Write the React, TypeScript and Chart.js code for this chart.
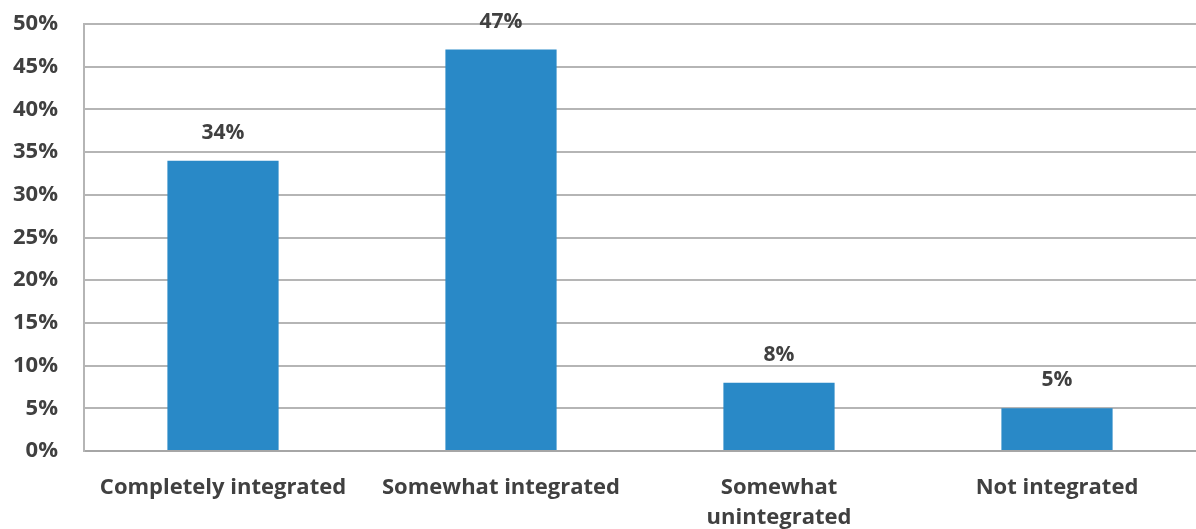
import React, { useEffect, useRef } from "react";
import { Chart, registerables } from "chart.js";

Chart.register(...registerables);

const categories: (string | string[])[] = [
  "Completely integrated",
  "Somewhat integrated",
  ["Somewhat", "unintegrated"],
  "Not integrated",
];
const values: number[] = [34, 47, 8, 5];
const yTicks: number[] = [0, 5, 10, 15, 20, 25, 30, 35, 40, 45, 50];

const TEXT = "#404040";
const FONT = "'Open Sans', Lato, sans-serif";

const valueLabels = {
  id: "valueLabels",
  afterDatasetsDraw(chart: any) {
    const ctx = chart.ctx;
    const meta = chart.getDatasetMeta(0);
    ctx.save();
    ctx.fillStyle = TEXT;
    ctx.font = `bold 21px ${FONT}`;
    ctx.textAlign = "center";
    ctx.textBaseline = "middle";
    meta.data.forEach((bar: any, i: number) => {
      ctx.fillText(values[i] + "%", bar.x, bar.y - 28);
    });
    ctx.restore();
  },
};

export default function App() {
  const ref = useRef<HTMLCanvasElement>(null);
  useEffect(() => {
    if (!ref.current) return;
    const chart = new Chart(ref.current, {
      type: "bar",
      data: {
        labels: categories,
        datasets: [
          {
            data: values,
            backgroundColor: "#2989C7",
            barPercentage: 0.8,
            categoryPercentage: 0.5,
          },
        ],
      },
      options: {
        animation: false,
        responsive: false,
        maintainAspectRatio: false,
        layout: { padding: { top: 24, right: 0, left: 0, bottom: 0 } },
        plugins: { legend: { display: false }, tooltip: { enabled: false } },
        scales: {
          x: {
            grid: { display: false, drawTicks: false },
            border: { display: true, color: "#a6a6a6", width: 2 },
            ticks: {
              color: TEXT,
              font: { family: FONT, size: 22, weight: "bold", lineHeight: 1.35 },
              padding: 22,
              maxRotation: 0,
              autoSkip: false,
            },
            afterFit(scale: any) {
              scale.height = 78;
              scale.paddingLeft = 0;
              scale.paddingRight = 0;
            },
          },
          y: {
            min: 0,
            max: 50,
            afterBuildTicks(scale: any) {
              scale.ticks = yTicks.map((v) => ({ value: v }));
            },
            grid: { color: "#b5b5b5", lineWidth: 2, drawTicks: false },
            border: { display: true, color: "#b5b5b5", width: 2 },
            ticks: {
              color: TEXT,
              font: { family: FONT, size: 22, weight: "bold" },
              padding: 26,
              callback: (v: any) => v + "%",
            },
            afterFit(scale: any) {
              scale.width = 84;
              scale.paddingTop = 0;
              scale.paddingBottom = 0;
            },
          },
        },
      },
      plugins: [valueLabels],
    });
    return () => chart.destroy();
  }, []);
  return (
    <div style={{ position: "fixed", left: 0, top: 0, width: 1196, height: 529, background: "#fff" }}>
      <canvas ref={ref} width={1196} height={529} />
    </div>
  );
}
